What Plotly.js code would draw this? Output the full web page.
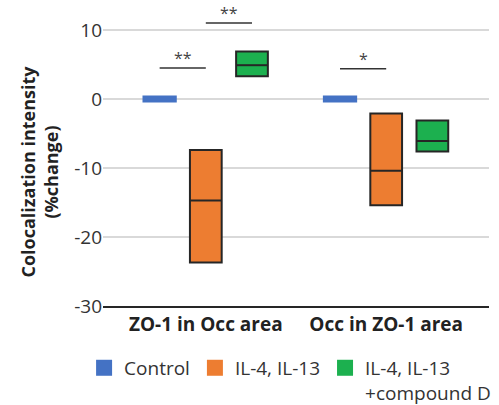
<!DOCTYPE html>
<html>
<head>
<meta charset="utf-8">
<script src="https://cdn.plot.ly/plotly-3.0.1.min.js"></script>
<style>html,body{margin:0;padding:0;background:#fff;}#chart{width:499px;height:405px;}</style>
</head>
<body>
<div id="chart"></div>
<script>
// ---- data ----
const categories = ['ZO-1 in Occ area', 'Occ in ZO-1 area'];
const seriesNames = ['Control', 'IL-4, IL-13', 'IL-4, IL-13<br>+compound D'];
const controlLow  = [-0.5, -0.5];
const controlMid  = [0, 0];
const controlHigh = [0.5, 0.5];
const ilLow  = [-23.7, -15.4];
const ilMid  = [-14.7, -10.4];
const ilHigh = [-7.4, -2.1];
const ilDLow  = [3.3, -7.6];
const ilDMid  = [4.9, -6.1];
const ilDHigh = [6.9, -3.1];
// significance brackets
const sigCategory = [0, 0, 1];
const sigFrom = [0, 1, 0];
const sigTo   = [1, 2, 1];
const sigY    = [4.5, 11, 4.4];
const sigLabel = ['**', '**', '*'];
const yTickVals = [-30, -20, -10, 0, 10];
const yTickText = ['-30', '-20', '-10', '0', '10'];
const yTitle = 'Colocalization intensity<br>(%change)';

// ---- styling ----
const colors = ['#4472c4', '#ed7d31', '#1cb04f'];
const centers = [-0.256, 0, 0.256];
const widths = [0.19, 0.176, 0.176];
const outlined = [false, true, true];
const lows = [controlLow, ilLow, ilDLow];
const mids = [controlMid, ilMid, ilDMid];
const highs = [controlHigh, ilHigh, ilDHigh];
const FONT = '"Open Sans", "Noto Sans", sans-serif';
const PAD = '&nbsp;'.repeat(6);

const traces = [];
const shapes = [];
const annotations = [];
for (let s = 0; s < 3; s++) {
  traces.push({
    type: 'bar',
    x: categories,
    base: lows[s],
    y: highs[s].map((h, i) => h - lows[s][i]),
    offset: centers[s] - widths[s] / 2,
    width: widths[s],
    marker: {color: colors[s], line: {color: '#262626', width: outlined[s] ? 2 : 0}},
    showlegend: false,
    hoverinfo: 'skip',
    cliponaxis: false
  });
  if (outlined[s]) {
    mids[s].forEach((m, i) => {
      shapes.push({
        type: 'line', xref: 'x', yref: 'y',
        x0: i + centers[s] - widths[s] / 2, x1: i + centers[s] + widths[s] / 2,
        y0: m, y1: m,
        line: {color: '#262626', width: 2}
      });
    });
  }
  traces.push({
    type: 'scatter', mode: 'markers', x: [null], y: [null],
    name: seriesNames[s],
    marker: {symbol: 'square', size: 16, color: colors[s]},
    hoverinfo: 'skip'
  });
}
for (let k = 0; k < sigLabel.length; k++) {
  const xa = sigCategory[k] + centers[sigFrom[k]];
  const xb = sigCategory[k] + centers[sigTo[k]];
  shapes.push({
    type: 'line', xref: 'x', yref: 'y',
    x0: xa, x1: xb, y0: sigY[k], y1: sigY[k],
    line: {color: '#333333', width: 1.5}
  });
  annotations.push({
    xref: 'x', yref: 'y', x: (xa + xb) / 2, y: sigY[k],
    text: sigLabel[k], showarrow: false, yanchor: 'bottom', yshift: -3,
    font: {family: FONT, size: 16, color: '#444'}
  });
}

const layout = {
  width: 499, height: 405,
  margin: {l: 103, r: 10, t: 10, b: 99, autoexpand: false},
  paper_bgcolor: '#fff', plot_bgcolor: '#fff',
  barmode: 'overlay',
  font: {family: FONT, color: '#333'},
  xaxis: {
    type: 'category', range: [-0.57, 1.57],
    showline: true, linecolor: '#262626', linewidth: 2,
    ticks: '', showgrid: false, zeroline: false,
    tickfont: {family: FONT, size: 19, color: '#222', weight: 'bold'},
    automargin: false, fixedrange: true
  },
  yaxis: {
    range: [-30, 12.9], tickvals: yTickVals, ticktext: yTickText,
    showgrid: true, gridcolor: '#d9d9d9', gridwidth: 1.5,
    zeroline: true, zerolinecolor: '#d9d9d9', zerolinewidth: 1.5,
    showline: false, ticks: '',
    tickfont: {family: FONT, size: 19, color: '#333'},
    title: {text: yTitle.split('<br>').map(t => t + PAD).join('<br>'), font: {family: FONT, size: 18, color: '#222', weight: 'bold'}, standoff: 10},
    automargin: false, fixedrange: true
  },
  legend: {
    orientation: 'h', xref: 'paper', yref: 'paper',
    x: -0.049, xanchor: 'left', y: -0.145, yanchor: 'top',
    font: {family: FONT, size: 19, color: '#333'},
    itemsizing: 'trace', tracegroupgap: 0, valign: 'top'
  },
  shapes: shapes,
  annotations: annotations
};

Plotly.newPlot('chart', traces, layout, {displayModeBar: false, staticPlot: true});
</script>
</body>
</html>
